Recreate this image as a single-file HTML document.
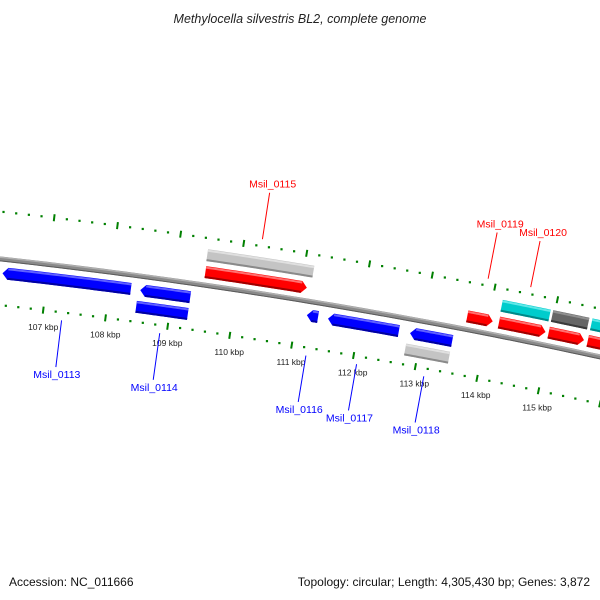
<!DOCTYPE html>
<html><head><meta charset="utf-8"><style>
html,body{margin:0;padding:0;background:#fff;}
svg{display:block;}
</style></head><body>
<svg id="map" width="600" height="600" viewBox="0 0 600 600" xmlns="http://www.w3.org/2000/svg" font-family="'Liberation Sans', 'DejaVu Sans', sans-serif">
<rect width="600" height="600" fill="#fff"/>
<text x="300" y="23" text-anchor="middle" font-size="12.5" font-style="italic" fill="#222">Methylocella silvestris BL2, complete genome</text>
<g id="ticks"></g>
<g id="backbone"></g>
<g id="feats"></g>
<g id="labels"></g>
<text x="9" y="586" font-size="12" fill="#111">Accession: NC_011666</text>
<text x="590" y="586" text-anchor="end" font-size="12" fill="#111">Topology: circular; Length: 4,305,430 bp; Genes: 3,872</text>
</svg>
<script>
// data (kbp)
const featStart = [106.29, 108.49, 108.46, 111.16, 111.50, 112.82, 112.79, 109.47, 109.46, 113.66, 114.17, 114.97, 115.60, 114.16, 114.97, 115.60];
const featEnd   = [108.34, 109.29, 109.29, 111.34, 112.64, 113.50, 113.50, 111.09, 111.15, 114.07, 114.92, 115.54, 116.40, 114.93, 115.55, 116.40];
const featLane  = [-1, -1, -2, -1, -1, -1, -2, 1, 2, 1, 1, 1, 1, 2, 2, 2];
const featColor = ['blue','blue','blue','blue','blue','blue','gray','red','gray','red','red','red','red','cyan','dgray','cyan'];
const featArrow = [1,1,0,1,1,1,0,1,0,1,1,1,1,0,0,0];
const labelNames = ['Msil_0113','Msil_0114','Msil_0116','Msil_0117','Msil_0118','Msil_0115','Msil_0119','Msil_0120'];
const labelPos   = [107.31, 108.89, 111.25, 112.07, 113.16, 110.28, 113.87, 114.55];
const labelStrand= [-1,-1,-1,-1,-1,1,1,1];
const tickStart = 104, tickEnd = 118;
const tickLabels = ['107 kbp','108 kbp','109 kbp','110 kbp','111 kbp','112 kbp','113 kbp','114 kbp','115 kbp'];
const tickLabelPos = [107,108,109,110,111,112,113,114,115];

const NS='http://www.w3.org/2000/svg';
const R=5856, CX=-642.5, CY=6079.5, T0=0.1183, K=0.0108;
function th(k){return T0+(k-107)*K;}
function pt(k,r){const t=th(k);return [CX+r*Math.sin(t), CY-r*Math.cos(t)];}
function mk(tag,parent){const e=document.createElementNS(NS,tag);parent.appendChild(e);return e;}
function arcPts(s,e,r,n){const a=[];for(let i=0;i<=n;i++){const k=s+(e-s)*i/n;a.push(pt(k,r));}return a;}
const colors={blue:['#0000ff','#0000a0','#6060ff'],red:['#ff0000','#a00000','#ff7070'],gray:['#c4c4c4','#8a8a8a','#e0e0e0'],cyan:['#00cccc','#008888','#60e8e8'],dgray:['#666666','#3a3a3a','#909090']};

// ticks
const tg=document.getElementById('ticks');
[R+47,R-46].forEach((r0,ri)=>{
  for(let i=Math.round(tickStart*5);i<=Math.round(tickEnd*5);i++){
    const k=i/5;
    if(i%5===0){
      const a=pt(k,r0-3.5),b=pt(k,r0+3.5);
      const l=mk('line',tg);
      
      
      l.setAttribute('x1',a[0]);l.setAttribute('y1',a[1]);l.setAttribute('x2',b[0]);l.setAttribute('y2',b[1]);
      l.setAttribute('stroke','#008000');l.setAttribute('stroke-width','2');
    } else {
      const p=pt(k,r0);
      const c=mk('rect',tg);
      
      
      c.setAttribute('x',p[0]-1.1);c.setAttribute('y',p[1]-1.1);c.setAttribute('width',2.2);c.setAttribute('height',2.2);
      c.setAttribute('fill','#008000');
    }
  }
});
tickLabels.forEach((t,i)=>{
  const p=pt(tickLabelPos[i],R-63);
  const tx=mk('text',tg);
  
  
  tx.setAttribute('x',p[0]+2);tx.setAttribute('y',p[1]+3);
  tx.setAttribute('text-anchor','middle');tx.setAttribute('font-size','8.5');tx.setAttribute('fill','#222');
  tx.textContent=t;
});

// backbone
const bg=document.getElementById('backbone');
function arcLine(r,col,w,name){
  const pts=arcPts(tickStart,tickEnd,r,80);
  const pl=mk('polyline',bg);
  
  
  pl.setAttribute('points',pts.map(p=>p.join(',')).join(' '));
  pl.setAttribute('fill','none');pl.setAttribute('stroke',col);pl.setAttribute('stroke-width',w);
}
arcLine(R,'#8a8a8a',5,'backbone-arc');
arcLine(R+1.6,'#b0b0b0',1.4,'backbone-highlight');
arcLine(R-2,'#5a5a5a',1,'backbone-shadow');

// features
const fg=document.getElementById('feats');
const laneR={'1':13,'2':30,'-1':-14,'-2':-31};
featStart.forEach((s,i)=>{
  const e=featEnd[i], lane=featLane[i], rc=R+laneR[lane], h=6, cols=colors[featColor[i]];
  const tip=0.085, n=24;
  let poly;
  if(featArrow[i]){
    if(lane>0){
      const outer=arcPts(s,e-tip,rc+h,n), inner=arcPts(s,e-tip,rc-h,n).reverse();
      poly=outer.concat([pt(e,rc)]).concat(inner);
    } else {
      const outer=arcPts(s+tip,e,rc+h,n), inner=arcPts(s+tip,e,rc-h,n).reverse();
      poly=[pt(s,rc)].concat(outer).concat(inner);
    }
  } else {
    poly=arcPts(s,e,rc+h,n).concat(arcPts(s,e,rc-h,n).reverse());
  }
  const g=mk('g',fg);
  
  
  const p=mk('polygon',g);
  
  
  p.setAttribute('points',poly.map(q=>q.join(',')).join(' '));
  p.setAttribute('fill',cols[0]);
  // dark bottom edge
  const es=featArrow[i]&&lane<0?s+tip:s, ee=featArrow[i]&&lane>0?e-tip:e;
  const b=mk('polyline',g);
  
  
  b.setAttribute('points',arcPts(es,ee,rc-h+1,n).map(q=>q.join(',')).join(' '));
  b.setAttribute('fill','none');b.setAttribute('stroke',cols[1]);b.setAttribute('stroke-width','2');
  const t=mk('polyline',g);
  
  
  t.setAttribute('points',arcPts(es,ee,rc+h-1.5,n).map(q=>q.join(',')).join(' '));
  t.setAttribute('fill','none');t.setAttribute('stroke',cols[2]);t.setAttribute('stroke-width','2');
});

// labels
const lg=document.getElementById('labels');
labelNames.forEach((nm,i)=>{
  const k=labelPos[i], st=labelStrand[i], col=st>0?'#ff0000':'#0000ff';
  const a=pt(k,R+st*54), b=pt(k,R+st*101);
  const l=mk('line',lg);
  
  
  l.setAttribute('x1',a[0]);l.setAttribute('y1',a[1]);l.setAttribute('x2',b[0]);l.setAttribute('y2',b[1]);
  l.setAttribute('stroke',col);l.setAttribute('stroke-width','1');
  const tx=mk('text',lg);
  
  
  tx.setAttribute('x',b[0]+(st>0?3:1));
  tx.setAttribute('y',st>0?b[1]-5:b[1]+11);
  tx.setAttribute('text-anchor','middle');tx.setAttribute('font-size','10.5');tx.setAttribute('fill',col);
  tx.textContent=nm;
});
</script>
</body></html>
